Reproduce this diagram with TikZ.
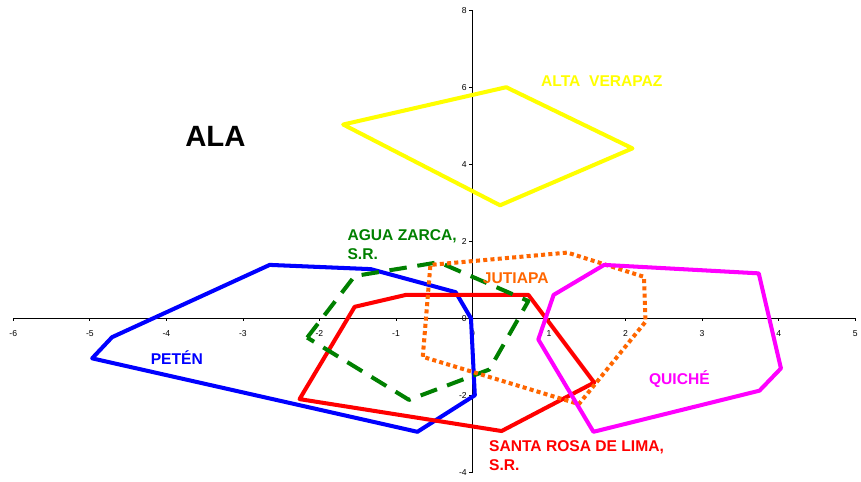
\documentclass[tikz,border=0pt]{standalone}
\usepackage{fontspec}
\setmainfont{Liberation Sans}
\definecolor{verapaz}{RGB}{255,255,0}
\definecolor{peten}{RGB}{0,0,255}
\definecolor{santa}{RGB}{255,0,0}
\definecolor{agua}{RGB}{0,128,0}
\definecolor{juti}{RGB}{255,102,0}
\definecolor{quiche}{RGB}{255,0,255}
\begin{document}
\begin{tikzpicture}[x=1cm,y=.5025cm,line join=round,font=\fontsize{3.2}{4}\selectfont,
  zona/.style={line width=1.5pt},
  rotulo/.style={font=\fontsize{5.8}{7.1}\selectfont\bfseries,anchor=base west,inner sep=0pt,align=left}]
\useasboundingbox (-6.174,-4.231) rectangle (5.076,8.278);
\draw[line width=.35pt] (-6,0)--(5,0);
\draw[line width=.35pt] (0,-4)--(0,8);
\foreach \x in {-6,...,5} \draw[line width=.3pt] (\x,0)--(\x,-.07) node (ex\x) at (\x,-.39) {\x};
\foreach \y in {-4,-2,...,8} \draw[line width=.3pt] (0,\y)--(-.045,\y) node (ey\y) [anchor=east,inner sep=0pt] at (-.07,\y) {\y};
\draw[zona,verapaz] (-1.69,5.04)--(0.44,6.01)--(2.09,4.42)--(0.36,2.94)--cycle;
\draw[zona,peten] (-4.97,-1.04)--(-4.71,-0.49)--(-2.65,1.39)--(-1.33,1.28)--(-0.22,0.68)--(-0.02,0)--(0.03,-2.0)--(-0.72,-2.95)--cycle;
\draw[zona,santa] (-1.54,0.30)--(-0.87,0.61)--(0.73,0.61)--(1.59,-1.67)--(0.38,-2.93)--(-2.26,-2.10)--cycle;
\draw[zona,agua,dash pattern=on 6.5pt off 4pt] (-2.16,-0.50)--(-1.54,1.10)--(-0.44,1.46)--(0.73,0.45)--(0.22,-1.33)--(-0.83,-2.12)--cycle;
\draw[zona,juti,dash pattern=on 1.5pt off 1.2pt] (-0.65,-1.0)--(-0.55,1.39)--(1.24,1.71)--(2.24,1.08)--(2.26,-0.09)--(1.39,-2.23)--cycle;
\draw[zona,quiche] (1.06,0.61)--(1.72,1.39)--(3.74,1.17)--(4.03,-1.30)--(3.75,-1.88)--(1.58,-2.95)--(0.86,-0.55)--cycle;
\node (ala) [font=\fontsize{10.9}{12}\selectfont\bfseries,anchor=base west,inner sep=0pt] at (-3.76,4.48) {ALA};
\node (alta) [rotulo,verapaz] at (0.89,6.02) {ALTA\ \ VERAPAZ};
\node (aguazarca) [rotulo,agua] at (-1.64,1.53) {AGUA ZARCA,\\S.R.};
\node (jutiapa) [rotulo,juti] at (0.13,0.91) {JUTIAPA};
\node (petenlbl) [rotulo,peten] at (-4.21,-1.21) {PETÉN};
\node (quichelbl) [rotulo,quiche] at (2.30,-1.71) {QUICHÉ};
\node (santarosa) [rotulo,santa] at (0.21,-3.95) {SANTA ROSA DE LIMA,\\S.R.};
\end{tikzpicture}
\end{document}
